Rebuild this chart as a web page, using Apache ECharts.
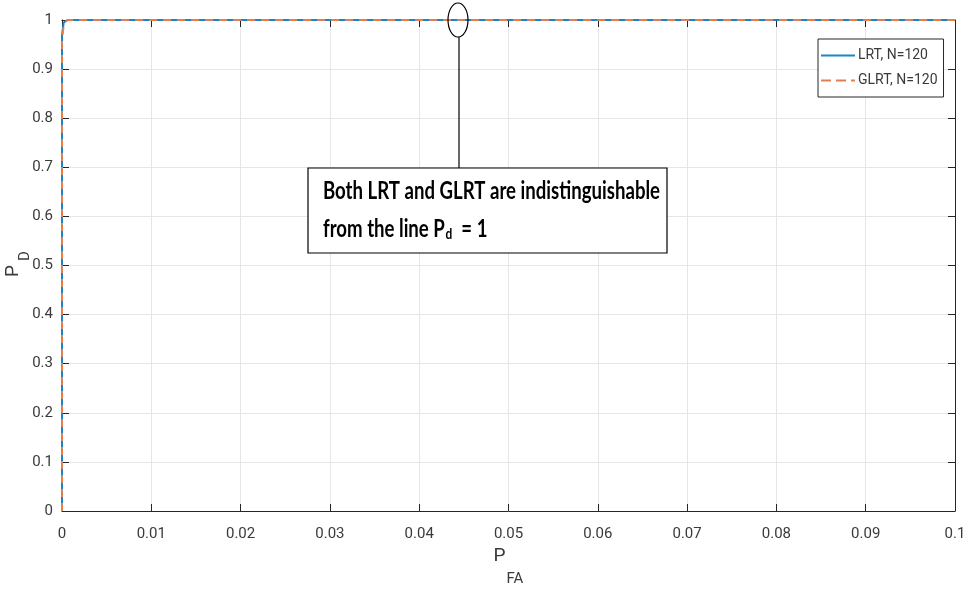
<!DOCTYPE html>
<html>
<head>
<meta charset="utf-8">
<script src="https://cdn.jsdelivr.net/npm/echarts@6/dist/echarts.min.js"></script>
<style>
  html, body { margin: 0; padding: 0; background: #fff; }
  #roc { width: 968px; height: 590px; }
</style>
</head>
<body>
<div id="roc"></div>
<script>
var roc = echarts.init(document.getElementById("roc"));

// ROC points (both curves hug the line Pd = 1)
let pfa = [0, 0, 0.0002, 0.0006, 0.1];
let pdLRT = [0, 0.97, 0.995, 1, 1];
let pdGLRT = [0, 0.96, 0.99, 1, 1];

let xTicks = { min: 0, max: 0.1, interval: 0.01 };
let yTicks = { min: 0, max: 1, interval: 0.1 };

let seriesNames = ["LRT, N=120", "GLRT, N=120"];

function pairs(xs, ys) {
  return xs.map(function (x, i) { return [x, ys[i]]; });
}

var tickFont = "Roboto";
var axisColor = "#262626";
var labelColor = "#3a3a3a";
var blue = "#1b86c6";
var orange = "#e0804f";

// the annotation text in the picture is condensed, so squeeze it to fit the box
var noteFont = "bold 25px Lato";
var cv = document.createElement("canvas").getContext("2d");
cv.font = noteFont;
var noteScale = 337 / cv.measureText("Both LRT and GLRT are indistinguishable").width;

function axisBase(pos) {
  return {
    axisLine: { show: true, onZero: false, lineStyle: { color: axisColor, width: 1 } },
    axisTick: { show: true, inside: true, length: 7, lineStyle: { color: axisColor } },
    position: pos
  };
}

roc.setOption({
  animation: false,
  grid: { left: 62, right: 13, top: 20, bottom: 79, outerBoundsMode: "none" },
  legend: {
    orient: "vertical",
    left: 818,
    top: 39,
    padding: [8, 6, 8, 3],
    itemGap: 8,
    itemWidth: 34,
    itemHeight: 2,
    backgroundColor: "#fff",
    borderColor: axisColor,
    borderWidth: 1,
    borderRadius: 0,
    textStyle: { fontFamily: tickFont, fontSize: 14, color: labelColor, lineHeight: 17, padding: [0, 0, 0, -2] },
    data: [
      { name: seriesNames[0], icon: "rect", itemStyle: { color: blue } },
      { name: seriesNames[1], icon: "path://M0,0h10v2h-10z M15,0h10v2h-10z M30,0h4v2h-4z", itemStyle: { color: orange } }
    ]
  },
  xAxis: [
    Object.assign(axisBase("bottom"), {
      type: "value",
      min: xTicks.min, max: xTicks.max, interval: xTicks.interval,
      axisLabel: {
        fontFamily: tickFont, fontSize: 15, color: labelColor, margin: 16,
        formatter: function (v) { return +v.toFixed(2) + ""; }
      },
      splitLine: { show: true, lineStyle: { color: "#e6e6e6" } },
      name: "{p|P}{s|FA}",
      nameLocation: "middle",
      nameGap: 6,
      nameTextStyle: {
        rich: {
          p: { fontFamily: tickFont, fontSize: 19, color: labelColor },
          s: { fontFamily: tickFont, fontSize: 15, color: labelColor, padding: [46, 0, 0, 1] }
        }
      }
    }),
    Object.assign(axisBase("top"), {
      type: "value",
      min: xTicks.min, max: xTicks.max, interval: xTicks.interval,
      axisLabel: { show: false },
      splitLine: { show: false }
    })
  ],
  yAxis: [
    Object.assign(axisBase("left"), {
      type: "value",
      min: yTicks.min, max: yTicks.max, interval: yTicks.interval,
      axisLabel: {
        fontFamily: tickFont, fontSize: 15, color: labelColor, margin: 9,
        formatter: function (v) { return +v.toFixed(1) + ""; }
      },
      splitLine: { show: true, lineStyle: { color: "#e6e6e6" } }
    }),
    Object.assign(axisBase("right"), {
      type: "value",
      min: yTicks.min, max: yTicks.max, interval: yTicks.interval,
      axisLabel: { show: false },
      splitLine: { show: false }
    })
  ],
  series: [
    {
      name: seriesNames[0],
      type: "line",
      symbol: "none",
      data: pairs(pfa, pdLRT),
      lineStyle: { color: blue, width: 2 },
      itemStyle: { color: blue },
      z: 3
    },
    {
      name: seriesNames[1],
      type: "line",
      symbol: "none",
      data: pairs(pfa, pdGLRT),
      lineStyle: { color: orange, width: 2, type: [8, 6] },
      itemStyle: { color: orange },
      z: 4
    }
  ],
  graphic: [
    // y axis name P_D, rotated
    {
      type: "text",
      x: 13, y: 271, rotation: Math.PI / 2,
      style: { text: "P", font: "19px Roboto", fill: labelColor, align: "center", verticalAlign: "middle" }
    },
    {
      type: "text",
      x: 25, y: 256, rotation: Math.PI / 2,
      style: { text: "D", font: "15px Roboto", fill: labelColor, align: "center", verticalAlign: "middle" }
    },
    {
      type: "ellipse",
      shape: { cx: 458, cy: 20, rx: 10, ry: 17 },
      style: { fill: "none", stroke: "#000", lineWidth: 1.2 },
      z: 10
    },
    {
      type: "line",
      shape: { x1: 459, y1: 37, x2: 459, y2: 168 },
      style: { stroke: "#000", lineWidth: 1.2 },
      z: 10
    },
    {
      type: "rect",
      shape: { x: 308, y: 168, width: 359, height: 85 },
      style: { fill: "#fff", stroke: "#000", lineWidth: 1.2 },
      z: 10
    },
    {
      type: "text",
      x: 323, y: 191, scaleX: noteScale,
      style: {
        text: "Both LRT and GLRT are indistinguishable",
        font: noteFont, fill: "#000", verticalAlign: "middle"
      },
      z: 11
    },
    {
      type: "text",
      x: 323, y: 229, scaleX: noteScale,
      style: {
        text: "{n|from the line P}{d|d}{n|  = 1}",
        verticalAlign: "middle",
        rich: {
          n: { font: noteFont, fill: "#000" },
          d: { font: "bold 16px Lato", fill: "#000", padding: [10, 0, 0, 1] }
        }
      },
      z: 11
    }
  ]
});
</script>
</body>
</html>
